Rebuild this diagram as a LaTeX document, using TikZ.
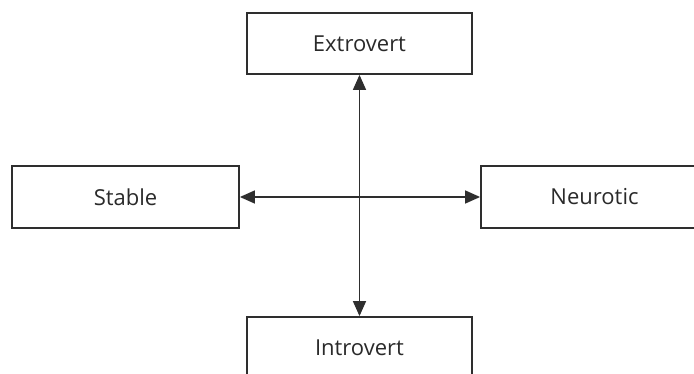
\documentclass[tikz,border=0pt]{standalone}
\usepackage{fontspec}
\setmainfont{Open Sans}
\usetikzlibrary{arrows.meta}
\definecolor{ln}{HTML}{2E2E2E}
\definecolor{tx}{HTML}{2A2A2A}
\begin{document}
\begin{tikzpicture}[x=1pt,y=-1pt,
  box/.style={draw=ln,line width=1.8pt,fill=white,inner sep=0pt,text=tx,font=\fontsize{22}{26}\selectfont},
  link/.style={draw=ln,line width=1.5pt,{Triangle[length=15pt,width=13pt]}-{Triangle[length=15pt,width=13pt]}}]
\useasboundingbox (0,0) rectangle (694,374);
\clip (0,0) rectangle (694,374);
\node[box,minimum width=225pt,minimum height=61pt] (ext) at (359.5,43.5) {Extrovert};
\node[box,minimum width=227pt,minimum height=62pt] (sta) at (125.5,197) {Stable};
\node[box,minimum width=227pt,minimum height=62pt] (neu) at (594.5,197) {Neurotic};
\node[box,minimum width=225pt,minimum height=61pt] (int) at (359.5,347.5) {Introvert};
\draw[link] (ext.south) -- (int.north);
\draw[link] (sta.east) -- (neu.west);
\end{tikzpicture}
\end{document}
